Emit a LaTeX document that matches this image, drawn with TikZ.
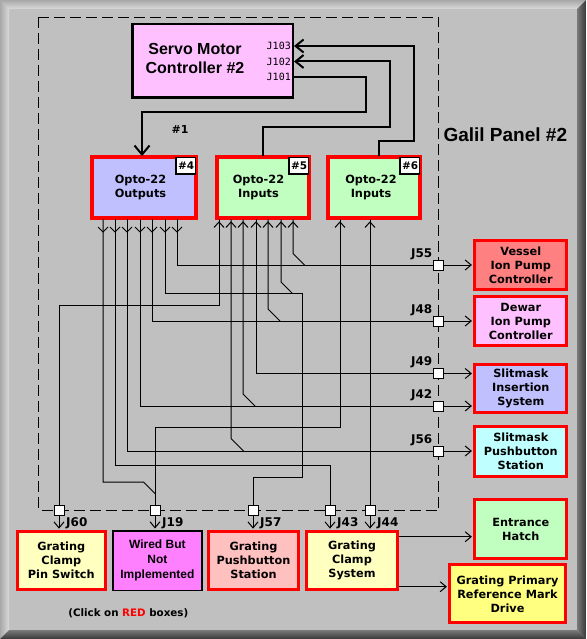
\documentclass[tikz,border=0pt]{standalone}
\usepackage{fontspec}
\setmainfont{DejaVu Sans}
\newfontfamily\myarial{Liberation Sans}
\newfontfamily\mymono{DejaVu Sans Mono}
\usetikzlibrary{arrows.meta}
\definecolor{bggray}{HTML}{C0C0C0}
\definecolor{boxred}{HTML}{FF0000}
\definecolor{cpink}{HTML}{FFC0FF}
\definecolor{cblue}{HTML}{C0C0FF}
\definecolor{cgreen}{HTML}{C0FFC0}
\definecolor{csalmon}{HTML}{FF8080}
\definecolor{ccyan}{HTML}{C0FFFF}
\definecolor{cyellow}{HTML}{FFFF80}
\definecolor{cpaleyellow}{HTML}{FFFFC0}
\definecolor{cmagenta}{HTML}{FF80FF}
\definecolor{crose}{HTML}{FFC0C0}
\definecolor{bevlight}{HTML}{DADADA}
\definecolor{bevmid}{HTML}{A8A8A8}
\definecolor{bevgray}{HTML}{7A7A7A}
\definecolor{bevdark}{HTML}{383838}
\newcommand\mylblfont{\fontsize{11.3}{14}\selectfont\bfseries}
\newcommand\myjfont{\fontsize{12}{12}\selectfont\bfseries}
\begin{document}
\begin{tikzpicture}[x=1pt,y=-1pt,
  redbox/.style={draw=boxred, line width=2.8pt, inner sep=0pt, align=center, font=\mylblfont},
  badge/.style={draw=black, fill=white, line width=1.5pt, minimum width=20pt, minimum height=17pt, inner sep=0pt, font=\fontsize{10.5}{10.5}\selectfont\bfseries},
  wire/.style={line width=1pt},
  swire/.style={line width=2pt},
  barb/.style={-{Straight Barb[length=6pt,width=10pt]}, shorten >=1.5pt},
  sbarb/.style={-{Straight Barb[length=8pt,width=13pt]}},
  jsq/.style={draw, fill=white, line width=1pt, minimum size=9pt, inner sep=0pt},
  jlab/.style={font=\myjfont, inner sep=0pt},
  slab/.style={font=\mymono\fontsize{10}{10}\selectfont, inner sep=0pt, anchor=east}]
\useasboundingbox (0,0) rectangle (586,639);
% background and bevel
\fill[bggray] (0,0) rectangle (586,639);
\shade[top color=bevmid, bottom color=bevlight] (0,0) -- (586,0) -- (577,9) -- (9,9) -- cycle;
\shade[left color=bevmid, right color=bevlight] (0,0) -- (9,9) -- (9,630) -- (0,639) -- cycle;
\shade[top color=bevgray, bottom color=bevdark] (0,639) -- (9,630) -- (577,630) -- (586,639) -- cycle;
\shade[left color=bevgray, right color=bevdark] (586,0) -- (577,9) -- (577,630) -- (586,639) -- cycle;

% panel
\draw[line width=1pt, dash pattern=on 11pt off 5pt] (38.7,17.3) rectangle (438.5,510.5);
\node[font=\myarial\bfseries\fontsize{19}{19}\selectfont, inner sep=0pt] (galil) at (505.3,135) {Galil Panel \#2};

% servo controller
\node[draw, line width=2.5pt, fill=cpink, minimum width=160.5pt, minimum height=73.5pt, inner sep=0pt] (servo) at (212.5,61) {};
\node[font=\myarial\bfseries\fontsize{16}{19}\selectfont, align=center, inner sep=0pt] (servotxt) at (195,58.5) {Servo Motor\\Controller \#2};
\node[slab] (j103) at (291,46) {J103};
\node[slab] (j102) at (291,61.5) {J102};
\node[slab] (j101) at (291,77) {J101};

% opto boxes
\node[redbox, fill=cblue, minimum width=103pt, minimum height=60pt] (o4) at (144,187.5) {Opto-22\hspace*{7pt}\\Outputs\hspace*{7pt}};
\node[redbox, fill=cgreen, minimum width=91pt, minimum height=60pt] (o5) at (263,187.5) {Opto-22\hspace*{9pt}\\Inputs\hspace*{9pt}};
\node[redbox, fill=cgreen, minimum width=91pt, minimum height=60pt] (o6) at (374,187.5) {Opto-22\hspace*{6pt}\\Inputs\hspace*{6pt}};
\node[badge, anchor=north east] (b4) at (o4.north east) {\#4};
\node[badge, anchor=north east] (b5) at (o5.north east) {\#5};
\node[badge, anchor=north east] (b6) at (o6.north east) {\#6};
\foreach \o in {o4,o5,o6}
  \draw[boxred, line width=2.8pt] (\o.north west) rectangle (\o.south east);

% servo wires
\draw[swire, -{Straight Barb[length=9pt,width=15pt]}] (servo.east |- j101) -- (366,77) -- (366,112) -- (142,112) -- (142,0 |- o4.north);
\draw[swire, sbarb] (o5.north) -- (263,127) -- (390,127) |- (servo.east |- j102);
\draw[swire, sbarb] (379,0 |- o6.north) -- (379,141) -- (414,141) |- (servo.east |- j103);
\node[font=\fontsize{11}{11}\selectfont\bfseries, inner sep=0pt] (n1) at (180,129) {\#1};

% pins
\foreach \n/\x in {1/103,2/115,3/127,4/140,5/152,6/165,7/177}{
  \coordinate (a\n) at (\x,219);
  \draw[wire] (\x-5,227) -- (\x,232) -- (\x+5,227);
}
\foreach \n/\x in {1/219,2/231,3/243,4/256,5/268,6/281,7/293}{
  \coordinate (b\n) at (\x,219);
  \draw[wire] (\x-5,227.5) -- (\x,222) -- (\x+5,227.5);
}
\foreach \n/\x in {1/340,2/370}{
  \coordinate (c\n) at (\x,219);
  \draw[wire] (\x-5,227.5) -- (\x,222) -- (\x+5,227.5);
}

% J connectors (right)
\node[jsq] (J55) at (438.5,265) {};
\node[jsq] (J48) at (438.5,321) {};
\node[jsq] (J49) at (438.5,373.5) {};
\node[jsq] (J42) at (438.5,406) {};
\node[jsq] (J56) at (438.5,451) {};
% J connectors (bottom)
\node[jsq] (J60) at (59,510.5) {};
\node[jsq] (J19) at (155,510.5) {};
\node[jsq] (J57) at (253,510.5) {};
\node[jsq] (J43) at (330,510.5) {};
\node[jsq] (J44) at (370,510.5) {};

% wiring
\draw[wire] (a7) |- (J55.west);
\draw[wire] (a6) -- (165,293) -- (302,293) -- (302,477) -| (J57.north);
\draw[wire] (a5) |- (J48.west);
\draw[wire] (a4) |- (J42.west);
\draw[wire] (a3) |- (J56.west);
\draw[wire] (a2) -- (115,465) -| (J43.north);
\draw[wire] (a1) -- (103,482) -- (143.5,482) -- (155,493.5);
\draw[wire] (b1) -- (219,305) -| (J60.north);
\draw[wire] (b2) -- (231,438.5) -- (243.5,451);
\draw[wire] (b3) -- (243,394) -- (255,406);
\draw[wire] (b4) |- (J49.west);
\draw[wire] (b5) -- (268,309) -- (280,321);
\draw[wire] (b6) -- (281,282) -- (292,293);
\draw[wire] (b7) -- (293,253.5) -- (304.5,265);
\draw[wire] (c1) -- (340,427) -| (J19.north);
\draw[wire] (c2) -- (J44.north);
% redraw squares on top
\foreach \j in {J55,J48,J49,J42,J56,J60,J19,J57,J43,J44}
  \draw[line width=1pt, fill=white] (\j.north west) rectangle (\j.south east);

% J labels
\foreach \j in {J55,J48,J49,J42,J56}
  \node[jlab, anchor=east] at ([xshift=-6pt,yshift=11pt]\j.center) {\j};
\foreach \j in {J60,J19,J57,J43,J44}
  \node[jlab, anchor=west] at ([xshift=7pt,yshift=-13pt]\j.center) {\j};

% right boxes
\node[redbox, fill=csalmon, minimum width=92pt, minimum height=48.7pt] (vessel) at (520.8,265.2) {Vessel\\Ion Pump\\Controller};
\node[redbox, fill=cpink, minimum width=92pt, minimum height=48.7pt] (dewar) at (520.8,321.2) {Dewar\\Ion Pump\\Controller};
\node[redbox, fill=cblue, minimum width=92pt, minimum height=48.6pt] (slitins) at (520.8,388.5) {Slitmask\\Insertion\\System};
\node[redbox, fill=ccyan, minimum width=92pt, minimum height=50pt] (slitpush) at (520.8,451.5) {Slitmask\\Pushbutton\\Station};
\node[redbox, fill=cgreen, minimum width=92pt, minimum height=58.7pt] (entrance) at (520.8,529.2) {Entrance\\Hatch};
\node[redbox, fill=cyellow, minimum width=115.4pt, minimum height=58pt] (primary) at (507.5,593.8) {Grating Primary\\Reference Mark\\Drive};

% bottom boxes
\node[redbox, fill=cpaleyellow, minimum width=87.7pt, minimum height=58.3pt] (pinsw) at (61.3,560.7) {Grating\\Clamp\\Pin Switch};
\node[draw, line width=1.5pt, fill=cmagenta, minimum width=89.2pt, minimum height=59.8pt, inner sep=0pt, align=center, font=\myarial\bfseries\fontsize{12}{15}\selectfont] (wired) at (157.35,560.65) {Wired But\\Not\\Implemented};
\node[redbox, fill=crose, minimum width=90pt, minimum height=58.3pt] (pushst) at (253.5,560.7) {Grating\\Pushbutton\\Station};
\node[redbox, fill=cpaleyellow, minimum width=90.4pt, minimum height=58.3pt] (clampsys) at (352,560.7) {Grating\\Clamp\\System};

% arrows to boxes
\draw[wire, barb] (J55.east) -- (J55.east -| vessel.west);
\draw[wire, barb] (J48.east) -- (J48.east -| dewar.west);
\draw[wire, barb] (J49.east) -- (J49.east -| slitins.west);
\draw[wire, barb] (J42.east) -- (J42.east -| slitins.west);
\draw[wire, barb] (J56.east) -- (J56.east -| slitpush.west);
\draw[wire, barb] (J60.south) -- (J60.south |- pinsw.north);
\draw[wire, barb] (J19.south) -- (J19.south |- wired.north);
\draw[wire, barb] (J57.south) -- (J57.south |- pushst.north);
\draw[wire, barb] (J43.south) -- (J43.south |- clampsys.north);
\draw[wire, barb] (J44.south) -- (J44.south |- clampsys.north);
\draw[wire, barb] (clampsys.east |- 0,536.7) -- (entrance.west |- 0,536.7);
\draw[wire, barb] (clampsys.east |- 0,586.7) -- (primary.west |- 0,586.7);

% note
\node[font=\fontsize{10.3}{10.3}\selectfont\bfseries, inner sep=0pt] (note) at (128.3,613.3) {(Click on \textcolor{boxred}{RED} boxes)};
\end{tikzpicture}
\end{document}
